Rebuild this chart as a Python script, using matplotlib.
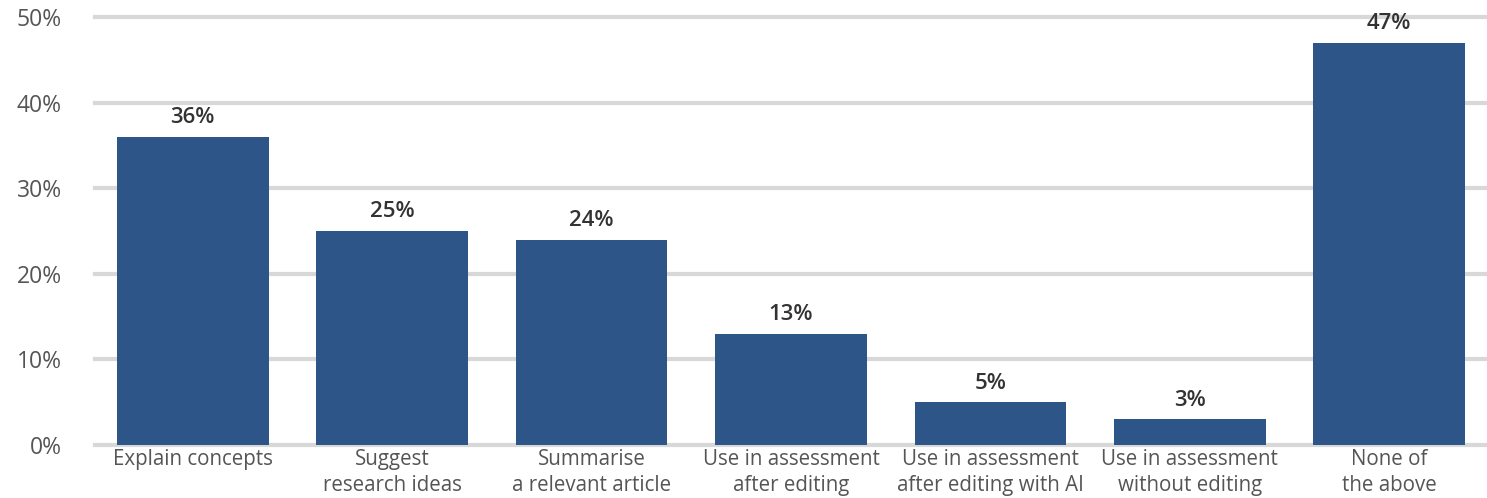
import matplotlib
matplotlib.use("Agg")
import matplotlib.pyplot as plt
from matplotlib.ticker import FuncFormatter

categories = ["Explain concepts", "Suggest\nresearch ideas", "Summarise\na relevant article",
              "Use in assessment\nafter editing", "Use in assessment\nafter editing with AI",
              "Use in assessment\nwithout editing", "None of\nthe above"]
values = [36, 25, 24, 13, 5, 3, 47]
yticks = [0, 10, 20, 30, 40, 50]

plt.rcParams['font.family'] = ['Open Sans', 'DejaVu Sans']
fig = plt.figure(figsize=(14.87, 4.98), dpi=100)
ax = fig.add_axes([95/1487, 53/498, 1392/1487, 428/498])
x = list(range(len(categories)))
ax.bar(x, values, width=0.76, color="#2d5587", zorder=3)
for xi, v in zip(x, values):
    ax.text(xi, v + 1.0, f"{v}%", ha="center", va="bottom", fontsize=16,
            fontweight="semibold", color="#333333")
ax.set_xlim(-0.49, 6.49)
ax.set_ylim(0, 50)
ax.set_yticks(yticks)
ax.yaxis.set_major_formatter(FuncFormatter(lambda v, p: f"{int(v)}%"))
ax.set_xticks(x)
ax.set_xticklabels(categories, fontsize=14.8, color="#555555", linespacing=1.3)
ax.tick_params(axis="y", labelsize=16.5, labelcolor="#555555", length=0, pad=24)
ax.tick_params(axis="x", length=0, pad=3)
for s in ax.spines.values():
    s.set_visible(False)
ax.grid(axis="y", color="#d8d8d8", linewidth=3, zorder=0)
for gl in ax.get_ygridlines():
    gl.set_clip_on(False)
fig.savefig("out.png", dpi=100)
